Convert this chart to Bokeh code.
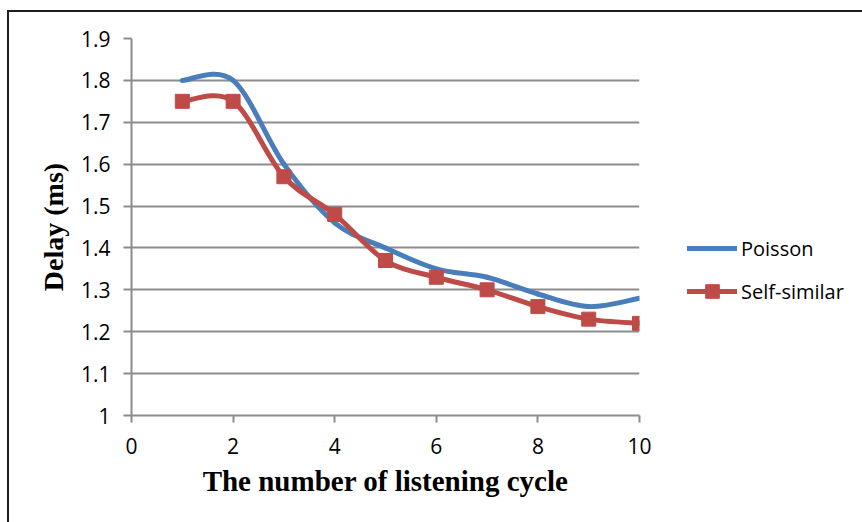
from bokeh.plotting import figure
from bokeh.models import FixedTicker, Legend, LegendItem, ColumnDataSource
from bokeh.embed import file_html
from bokeh.resources import INLINE

# Delay per listening cycle for the two traffic models
cycles = [1, 2, 3, 4, 5, 6, 7, 8, 9, 10]
poisson = [1.80, 1.80, 1.60, 1.46, 1.40, 1.35, 1.33, 1.29, 1.26, 1.28]
self_similar = [1.75, 1.75, 1.57, 1.48, 1.37, 1.33, 1.30, 1.26, 1.23, 1.22]

x_ticks = [0, 2, 4, 6, 8, 10]
y_ticks = [1.0, 1.1, 1.2, 1.3, 1.4, 1.5, 1.6, 1.7, 1.8, 1.9]

BLUE = "#4A7EBB"
RED = "#BE4B48"
GRID = "#8c8c8c"
TICK_FONT = "Open Sans"
TITLE_FONT = "Liberation Serif"


def smooth_segments(xs, ys):
    """Cubic Bezier segments through every point (Catmull-Rom style smoothing)."""
    n = len(xs)
    seg = dict(x0=[], y0=[], x1=[], y1=[], cx0=[], cy0=[], cx1=[], cy1=[])
    for i in range(n - 1):
        a = max(i - 1, 0)
        b = min(i + 2, n - 1)
        seg["x0"].append(xs[i])
        seg["y0"].append(ys[i])
        seg["x1"].append(xs[i + 1])
        seg["y1"].append(ys[i + 1])
        seg["cx0"].append(xs[i] + (xs[i + 1] - xs[a]) / 6)
        seg["cy0"].append(ys[i] + (ys[i + 1] - ys[a]) / 6)
        seg["cx1"].append(xs[i + 1] - (xs[b] - xs[i]) / 6)
        seg["cy1"].append(ys[i + 1] - (ys[b] - ys[i]) / 6)
    return ColumnDataSource(seg)


p = figure(
    frame_width=508, frame_height=377,
    x_range=(0, 10), y_range=(1.0, 1.9),
    output_backend="svg", toolbar_location=None,
    min_border_left=122, min_border_right=223,
    min_border_top=26, min_border_bottom=107,
)
p.styles = {
    "margin-left": "7px",
    "margin-top": "10px",
    "border-left": "2px solid #1e1e1e",
    "border-top": "2px solid #1e1e1e",
}
p.outline_line_color = None
p.background_fill_color = "white"
p.border_fill_color = "white"

# grid
p.xgrid.grid_line_color = None
p.ygrid.ticker = FixedTicker(ticks=y_ticks)
p.ygrid.grid_line_color = GRID
p.ygrid.grid_line_width = 2

# axes
for ax in (p.xaxis[0], p.yaxis[0]):
    ax.axis_line_color = GRID
    ax.axis_line_width = 2
    ax.major_tick_line_color = GRID
    ax.major_tick_line_width = 2
    ax.minor_tick_line_color = None
    ax.major_tick_in = 0
    ax.major_label_text_font = TICK_FONT
    ax.major_label_text_font_size = "21px"
    ax.major_label_text_color = "#000000"
    ax.axis_label_text_font = TITLE_FONT
    ax.axis_label_text_font_style = "bold"
    ax.axis_label_text_color = "#000000"

p.xaxis.ticker = FixedTicker(ticks=x_ticks)
p.xaxis.major_tick_out = 7
p.xaxis.major_label_standoff = 15
p.xaxis.axis_label = "The number of listening cycle"
p.xaxis.axis_label_text_font_size = "29px"
p.xaxis.axis_label_standoff = 8

p.yaxis.ticker = FixedTicker(ticks=y_ticks)
p.yaxis.major_tick_out = 8
p.yaxis.major_label_standoff = 13
p.yaxis.major_label_overrides = {1: "1"}
p.yaxis.axis_label = "Delay (ms)"
p.yaxis.axis_label_text_font_size = "28px"
p.yaxis.axis_label_standoff = 9

# smoothed series
p.bezier("x0", "y0", "x1", "y1", "cx0", "cy0", "cx1", "cy1",
         source=smooth_segments(cycles, poisson),
         line_color=BLUE, line_width=5, line_cap="round")
p.bezier("x0", "y0", "x1", "y1", "cx0", "cy0", "cx1", "cy1",
         source=smooth_segments(cycles, self_similar),
         line_color=RED, line_width=5, line_cap="round")
marks = p.scatter(cycles, self_similar, marker="square", size=14,
                  fill_color=RED, line_color=RED)

# legend swatches (hidden renderers that only supply the key styling)
blue_key = p.line(cycles, poisson, line_color=BLUE, line_width=5,
                  line_cap="round", visible=False)
red_key = p.line(cycles, self_similar, line_color=RED, line_width=5,
                 line_cap="round", visible=False)

legend = Legend(
    items=[LegendItem(label="Poisson", renderers=[blue_key]),
           LegendItem(label="Self-similar", renderers=[red_key, marks])],
    location=(48, 107),
    orientation="vertical",
    glyph_width=50, glyph_height=34, label_height=20,
    label_standoff=4, spacing=9, padding=0, margin=0,
    border_line_color=None, background_fill_alpha=0,
    label_text_font=TICK_FONT, label_text_font_size="20px",
    label_text_color="#000000",
)
p.add_layout(legend, "right")

open("out.html", "w").write(file_html(p, INLINE))
